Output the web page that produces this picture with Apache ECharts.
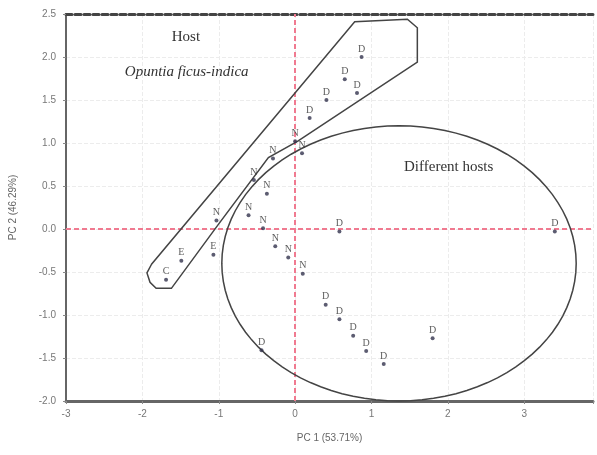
<!DOCTYPE html>
<html>
<head>
<meta charset="utf-8">
<script src="https://cdn.jsdelivr.net/npm/echarts@6/dist/echarts.min.js"></script>
<style>
  html, body { margin: 0; padding: 0; background: #fff; }
  #chart { width: 597px; height: 455px; }
</style>
</head>
<body>
<div id="chart"></div>
<script>
// PCA scores (PC1, PC2) with sample group letter
const pc1 = [0.87, 0.65, 0.81, 0.41, 0.19, 0.0, 0.09, -0.29, -0.54, -0.37, -1.03, -1.07, -1.49, -1.69,
             -0.61, -0.42, -0.26, -0.09, 0.10, 0.58, 3.40, -0.44, 0.40, 0.58, 0.76, 0.93, 1.16, 1.80];
const pc2 = [2.00, 1.74, 1.58, 1.50, 1.29, 1.02, 0.88, 0.82, 0.57, 0.41, 0.10, -0.30, -0.37, -0.59,
             0.16, 0.01, -0.20, -0.33, -0.52, -0.03, -0.03, -1.41, -0.88, -1.05, -1.24, -1.42, -1.57, -1.27];
const groups = ['D', 'D', 'D', 'D', 'D', 'N', 'N', 'N', 'N', 'N', 'N', 'E', 'E', 'C',
                'N', 'N', 'N', 'N', 'N', 'D', 'D', 'D', 'D', 'D', 'D', 'D', 'D', 'D'];

// outline around the Opuntia ficus-indica samples (data units)
const hullX = [-1.88, -1.94, -1.90, -1.82, -1.62, -1.00, -0.35, 0.03, 1.60, 1.60, 1.47, 0.78];
const hullY = [-0.41, -0.51, -0.62, -0.69, -0.69, 0.06, 0.83, 1.02, 1.94, 2.34, 2.44, 2.41];

// ellipse around the "different hosts" samples: centre x, centre y, radius x, radius y
const ellipse = [1.36, -0.40, 2.32, 1.60];

const notes = [
  { text: 'Host', x: -1.43, y: 2.23, italic: false },
  { text: 'Opuntia ficus-indica', x: -1.42, y: 1.83, italic: true },
  { text: 'Different hosts', x: 2.01, y: 0.72, italic: false }
];

const xTicks = { min: -3, max: 3.9, interval: 1 };
const yTicks = { min: -2, max: 2.5, interval: 0.5 };

const chart = echarts.init(document.getElementById('chart'));

const points = pc1.map((x, i) => [x, pc2[i], groups[i]]);

chart.setOption({
  animation: false,
  grid: { left: 64, right: 4, top: 14, bottom: 54 },
  xAxis: [{
    type: 'value',
    min: xTicks.min, max: xTicks.max, interval: xTicks.interval,
    name: 'PC 1 (53.71%)',
    nameLocation: 'middle',
    nameGap: 32,
    nameTextStyle: { color: '#666', fontSize: 10, fontFamily: 'Liberation Sans' },
    axisLine: { onZero: false, lineStyle: { color: '#666', width: 3 } },
    axisTick: { show: true, length: 3, lineStyle: { color: '#888' } },
    axisLabel: {
      color: '#777', fontSize: 10, fontFamily: 'Liberation Sans', margin: 8,
      formatter: v => (Number.isInteger(v) ? String(v) : '')
    },
    splitLine: { show: true, lineStyle: { color: '#ececec', type: 'dashed' } }
  }, {
    type: 'value',
    position: 'top',
    min: xTicks.min, max: xTicks.max, interval: xTicks.interval,
    axisLine: { show: true, onZero: false, lineStyle: { color: '#444', width: 3, type: [6, 3] } },
    axisTick: { show: false },
    axisLabel: { show: false },
    splitLine: { show: false }
  }],
  yAxis: {
    type: 'value',
    min: yTicks.min, max: yTicks.max, interval: yTicks.interval,
    name: 'PC 2 (46.29%)',
    nameLocation: 'middle',
    nameGap: 48,
    nameTextStyle: { color: '#666', fontSize: 10, fontFamily: 'Liberation Sans' },
    axisLine: { show: true, onZero: false, lineStyle: { color: '#666', width: 2 } },
    axisTick: { show: true, length: 3, lineStyle: { color: '#888' } },
    axisLabel: {
      color: '#777', fontSize: 10, fontFamily: 'Liberation Sans', margin: 10,
      formatter: v => v.toFixed(1)
    },
    splitLine: { show: true, lineStyle: { color: '#ececec', type: 'dashed' } }
  },
  series: [
    {
      type: 'custom',
      silent: true,
      z: 3,
      data: [ellipse.slice(0, 2)],
      renderItem: (params, api) => {
        const c = api.coord([ellipse[0], ellipse[1]]);
        const r = api.size([ellipse[2], ellipse[3]]);
        const pts = [];
        for (let k = 0; k <= 96; k++) {
          const a = (k / 96) * Math.PI * 2;
          pts.push([c[0] + r[0] * Math.cos(a), c[1] + r[1] * Math.sin(a)]);
        }
        return {
          type: 'polygon',
          shape: { points: pts },
          style: { fill: 'none', stroke: '#444', lineWidth: 1.5 }
        };
      }
    },
    {
      type: 'custom',
      silent: true,
      z: 3,
      data: [[hullX[0], hullY[0]]],
      renderItem: (params, api) => {
        const pts = hullX.map((x, i) => api.coord([x, hullY[i]]));
        return {
          type: 'polygon',
          shape: { points: pts },
          style: { fill: 'none', stroke: '#444', lineWidth: 1.5 }
        };
      }
    },
    {
      type: 'scatter',
      z: 4,
      data: points,
      symbol: 'circle',
      symbolSize: 4,
      itemStyle: { color: '#33334d' },
      label: {
        show: true,
        position: 'top',
        distance: 1,
        formatter: p => p.data[2],
        color: '#333',
        fontSize: 10,
        fontFamily: 'Liberation Serif'
      },
      markLine: {
        silent: true,
        symbol: 'none',
        z: 2,
        label: { show: false },
        lineStyle: { color: '#f07a90', type: [5, 3], width: 2, opacity: 1 },
        emphasis: { disabled: true },
        data: [{ xAxis: 0 }, { yAxis: 0 }]
      }
    }
  ]
});

chart.setOption({
  graphic: notes.map(n => {
    const p = chart.convertToPixel({ gridIndex: 0 }, [n.x, n.y]);
    return {
      type: 'text',
      x: p[0], y: p[1],
      style: {
        text: n.text,
        align: 'center', verticalAlign: 'middle',
        fill: '#333',
        font: (n.italic ? 'italic ' : '') + '15px "Liberation Serif"'
      }
    };
  })
});
</script>
</body>
</html>
